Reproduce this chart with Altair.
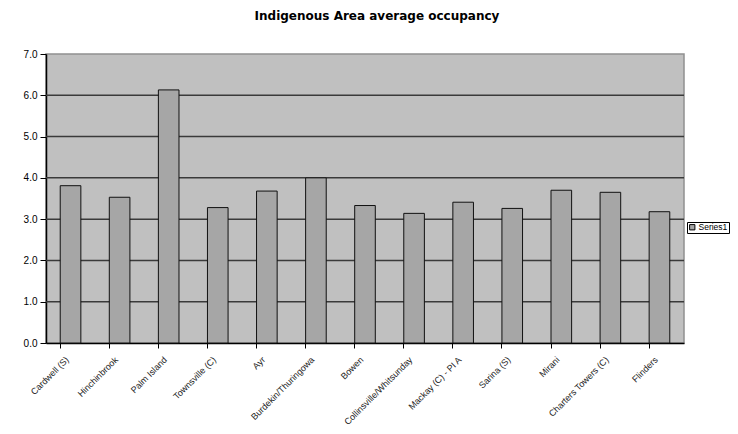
import altair as alt
import pandas as pd

categories = ["Cardwell (S)", "Hinchinbrook", "Palm Island", "Townsville (C)", "Ayr",
              "Burdekin/Thuringowa", "Bowen", "Collinsville/Whitsunday", "Mackay (C) - PI A",
              "Sarina (S)", "Mirani", "Charters Towers (C)", "Flinders"]
values = [3.81, 3.53, 6.13, 3.28, 3.68, 4.00, 3.33, 3.14, 3.41, 3.26, 3.70, 3.65, 3.18]
series = ["Series1"] * len(categories)
y_ticks = [0, 1, 2, 3, 4, 5, 6, 7]
grid_lines = [1, 2, 3, 4, 5, 6]

df = pd.DataFrame({"category": categories, "value": values, "series": series})
grid_df = pd.DataFrame({"g": grid_lines})

y_scale = alt.Scale(domain=[0, 7], nice=False)
y_axis = alt.Axis(values=y_ticks, format=".1f",
                  labelFontSize=10, labelFont="Liberation Sans", labelColor="#000000",
                  tickSize=6, tickColor="#000000", domainColor="#000000",
                  domainWidth=1.5, labelPadding=3, grid=False)

grid = alt.Chart(grid_df).mark_rule(color="#3a3a3a", strokeWidth=1.5).encode(
    y=alt.Y("g:Q", scale=y_scale, title=None, axis=y_axis)
)

bars = alt.Chart(df).mark_bar(stroke="#111111", strokeWidth=1).encode(
    x=alt.X("category:N", sort=None, title=None,
            scale=alt.Scale(paddingInner=0.58, paddingOuter=0.29),
            axis=alt.Axis(labelAngle=-45, labelAlign="right", labelBaseline="top",
                          labelFontSize=9, labelFont="Liberation Sans", labelColor="#222222",
                          bandPosition=0, tickSize=5, tickColor="#000000",
                          domainColor="#000000", domainWidth=1.5, labelPadding=7,
                          labelOffset=-6, labelOverlap=False, labelLimit=200, grid=False)),
    y=alt.Y("value:Q", title=None, scale=y_scale, axis=y_axis),
    color=alt.Color("series:N", title=None,
                    scale=alt.Scale(range=["#A6A6A6"]),
                    legend=alt.Legend(orient="none", legendX=641, legendY=168,
                                      symbolType="square", symbolSize=28,
                                      symbolStrokeColor="#000000", symbolStrokeWidth=1,
                                      labelFontSize=8.5, labelFont="Liberation Sans",
                                      strokeColor="#000000", fillColor="#FFFFFF",
                                      padding=1, labelOffset=2)),
)

chart = alt.layer(grid, bars).properties(
    width=638, height=289,
    title=alt.TitleParams("Indigenous Area average occupancy", fontSize=12,
                          font="DejaVu Sans", fontWeight="bold", anchor="middle",
                          dx=12, offset=26, color="#000000"),
    autosize=alt.AutoSizeParams(type="none"),
    padding={"left": 38, "top": 46, "right": 46, "bottom": 83},
).configure_view(fill="#C0C0C0", stroke="#909090", strokeWidth=1.5)

chart.save("out.html", embed_options={"renderer": "svg", "actions": False})
